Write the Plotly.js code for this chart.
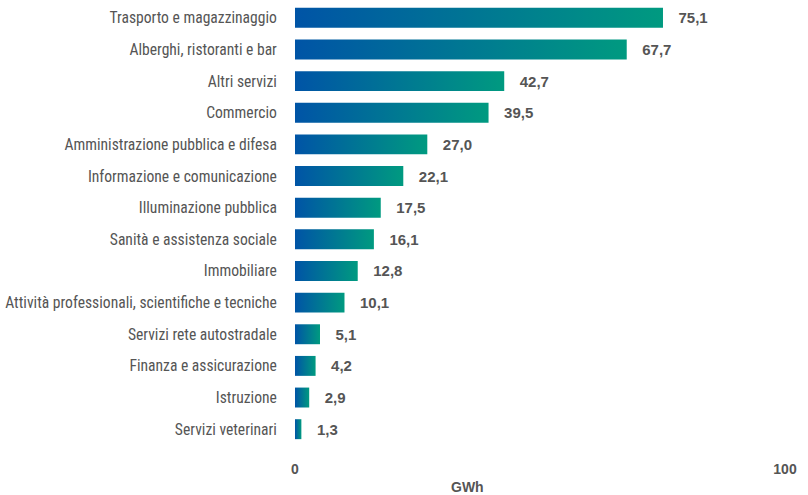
<!DOCTYPE html>
<html>
<head>
<meta charset="utf-8">
<script src="https://cdn.plot.ly/plotly-3.0.1.min.js"></script>
<style>html,body{margin:0;padding:0;background:#fff;}#chart{width:808px;height:495px;}</style>
</head>
<body>
<div id="chart"></div>
<script>
const categories = [
  "Trasporto e magazzinaggio",
  "Alberghi, ristoranti e bar",
  "Altri servizi",
  "Commercio",
  "Amministrazione pubblica e difesa",
  "Informazione e comunicazione",
  "Illuminazione pubblica",
  "Sanità e assistenza sociale",
  "Immobiliare",
  "Attività professionali, scientifiche e tecniche",
  "Servizi rete autostradale",
  "Finanza e assicurazione",
  "Istruzione",
  "Servizi veterinari"
];
const values = [75.1, 67.7, 42.7, 39.5, 27.0, 22.1, 17.5, 16.1, 12.8, 10.1, 5.1, 4.2, 2.9, 1.3];
const xTicks = [0, 100];
const xTitle = "GWh";

const labels = values.map(v => "   " + v.toFixed(1).replace(".", ","));
const font = "Liberation Sans Narrow, Roboto Condensed, Arial Narrow, Liberation Sans, Arial, sans-serif";
const boldFont = {family: "Liberation Sans, Arial, sans-serif", size: 15, color: "#555555", weight: "bold"};

const trace = {
  type: "bar",
  orientation: "h",
  y: categories,
  x: values,
  text: labels,
  textposition: "outside",
  cliponaxis: false,
  textfont: boldFont,
  marker: {color: "#0a6aa0"},
  width: 0.63,
  hoverinfo: "none"
};

const layout = {
  width: 808, height: 495,
  margin: {l: 295, r: 23, t: 2, b: 50},
  paper_bgcolor: "#fff", plot_bgcolor: "#fff",
  showlegend: false,
  xaxis: {
    range: [0, 100],
    tickvals: xTicks,
    ticktext: xTicks.map(String),
    showgrid: false, zeroline: false, showline: false,
    ticks: "outside", ticklen: 11, tickcolor: "rgba(0,0,0,0)",
    tickfont: {family: "Liberation Sans, Arial, sans-serif", size: 14, color: "#555555", weight: "bold"},
    fixedrange: true
  },
  yaxis: {
    autorange: "reversed",
    type: "category",
    showgrid: false, zeroline: false, showline: false,
    ticks: "outside", ticklen: 14, tickcolor: "rgba(0,0,0,0)",
    tickfont: {family: font, size: 15.6, color: "#555555"},
    fixedrange: true
  },
  annotations: [{
    text: xTitle, xref: "paper", yref: "paper",
    x: 0.353, y: 0, yshift: -42, xanchor: "center", yanchor: "middle",
    showarrow: false,
    font: {family: "Liberation Sans, Arial, sans-serif", size: 14, color: "#555555", weight: "bold"}
  }]
};

function applyGradient(gd) {
  const svg = gd.querySelector("svg.main-svg");
  if (!svg) return;
  let defs = svg.querySelector("defs");
  const ns = "http://www.w3.org/2000/svg";
  if (!defs) { defs = document.createElementNS(ns, "defs"); svg.insertBefore(defs, svg.firstChild); }
  if (!svg.querySelector("#barGrad")) {
    const g = document.createElementNS(ns, "linearGradient");
    g.setAttribute("id", "barGrad");
    g.setAttribute("x1", "0"); g.setAttribute("y1", "0");
    g.setAttribute("x2", "1"); g.setAttribute("y2", "0");
    const s1 = document.createElementNS(ns, "stop");
    s1.setAttribute("offset", "0"); s1.setAttribute("stop-color", "#0054a6");
    const s2 = document.createElementNS(ns, "stop");
    s2.setAttribute("offset", "1"); s2.setAttribute("stop-color", "#009a80");
    g.appendChild(s1); g.appendChild(s2);
    defs.appendChild(g);
  }
  gd.querySelectorAll(".bars .point path").forEach(p => {
    p.style.fill = "url(#barGrad)";
  });
}

Plotly.newPlot("chart", [trace], layout, {displayModeBar: false, staticPlot: true}).then(gd => {
  applyGradient(gd);
  gd.on("plotly_afterplot", () => applyGradient(gd));
});
</script>
</body>
</html>
